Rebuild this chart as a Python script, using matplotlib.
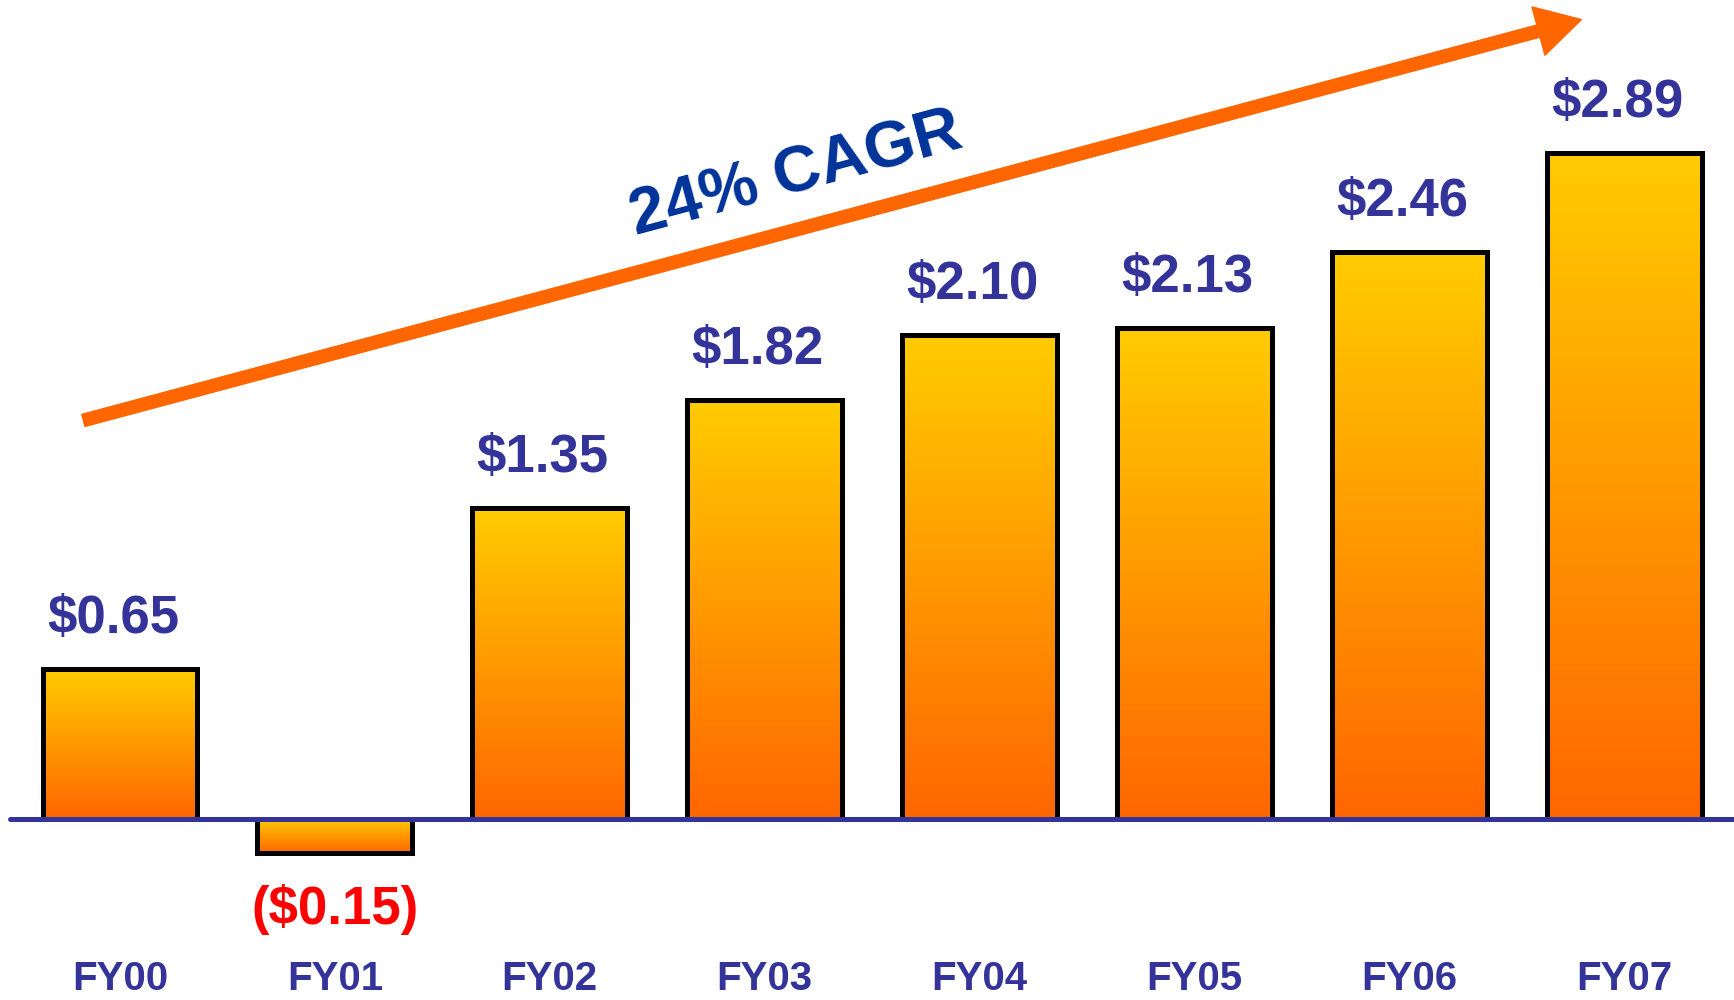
import numpy as np
import matplotlib
matplotlib.use("Agg")
import matplotlib.pyplot as plt
from matplotlib.colors import LinearSegmentedColormap

# EPS by fiscal year
years = ["FY00", "FY01", "FY02", "FY03", "FY04", "FY05", "FY06", "FY07"]
eps = [0.65, -0.15, 1.35, 1.82, 2.10, 2.13, 2.46, 2.89]
eps_labels = ["$0.65", "($0.15)", "$1.35", "$1.82", "$2.10", "$2.13", "$2.46", "$2.89"]
cagr_text = "24% CAGR"

BLUE = "#333399"
plt.rcParams["font.family"] = ["Liberation Sans", "DejaVu Sans"]

fig = plt.figure(figsize=(17.34, 10.0), dpi=100, facecolor="white")
ax = fig.add_axes([0, 0, 1, 1])
ax.set_xlim(-0.558, 7.51)
ax.set_ylim(-0.786, 3.555)
ax.axis("off")

# bars: gradient fill clipped to each rectangle, black outline on top
grad_cmap = LinearSegmentedColormap.from_list("yo", ["#FFCC00", "#FF6600"])
gradient = np.linspace(0, 1, 256).reshape(-1, 1)
x = np.arange(len(years))
bars = ax.bar(x, eps, width=0.72, facecolor="none", edgecolor="black",
              linewidth=3.6, zorder=3)
for rect in bars:
    x0 = rect.get_x()
    x1 = x0 + rect.get_width()
    y0 = min(rect.get_y(), rect.get_y() + rect.get_height())
    y1 = max(rect.get_y(), rect.get_y() + rect.get_height())
    img = ax.imshow(gradient, cmap=grad_cmap, aspect="auto",
                    extent=[x0, x1, y0, y1], origin="upper", zorder=2)
    img.set_clip_path(rect)

# baseline
ax.axhline(0, xmin=0.006, xmax=1.0, color=BLUE, linewidth=3.6,
           solid_capstyle="round", zorder=4)

# value labels
for xi, val, lab in zip(x, eps, eps_labels):
    if val >= 0:
        ax.annotate(lab, (xi, val), xytext=(-5, 26), textcoords="offset points",
                    ha="center", va="baseline", fontsize=38, fontweight="bold",
                    color=BLUE)
    else:
        ax.annotate(lab, (xi, val), xytext=(0, -51), textcoords="offset points",
                    ha="center", va="baseline", fontsize=38, fontweight="bold",
                    color="#FF0000")

# category labels along the bottom
for xi, yr in zip(x, years):
    ax.annotate(yr, (xi, 0), xytext=(0, -123), textcoords="offset points",
                ha="center", va="baseline", fontsize=29, fontweight="bold",
                color=BLUE, annotation_clip=False)

# growth arrow
ax.annotate("", xy=(6.80, 3.47), xytext=(-0.17, 1.73),
            arrowprops=dict(arrowstyle="simple,head_length=1.6,head_width=1.8,tail_width=0.45",
                            color="#FF6600", mutation_scale=20, shrinkA=0, shrinkB=0),
            zorder=5)
ax.text(3.146, 2.795, cagr_text, rotation=15, rotation_mode="anchor",
        ha="center", va="center", fontsize=47, fontweight="bold", color="#003399")

fig.savefig("out.png", dpi=100, facecolor="white")
